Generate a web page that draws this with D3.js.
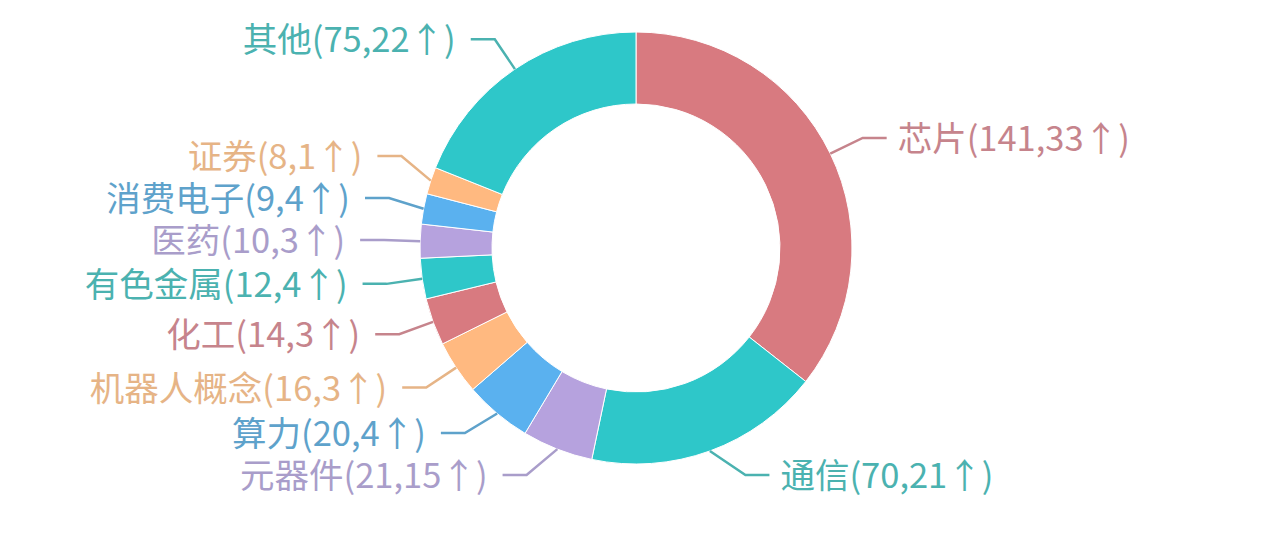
<!DOCTYPE html>
<html><head><meta charset="utf-8">
<script src="https://cdn.jsdelivr.net/npm/d3@7/dist/d3.min.js"></script>
<style>html,body{margin:0;padding:0;background:#fff;overflow:hidden}</style>
</head><body>
<svg id="c" width="1272" height="541"></svg>
<script>
const categories = ['芯片','通信','元器件','算力','机器人概念','化工','有色金属','医药','消费电子','证券','其他'];
const values = [141,70,21,20,16,14,12,10,9,8,75];
const changes = [33,21,15,4,3,3,4,3,4,1,22];
const sliceColors = ['#d87a80','#2ec7c9','#b6a2de','#5ab1ef','#ffb980','#d87a80','#2ec7c9','#b6a2de','#5ab1ef','#ffb980','#2ec7c9'];
const labelColors = ['#c6848c','#4bb2b0','#a99dca','#5ea2cb','#e6b486','#c6848c','#4bb2b0','#a99dca','#5ea2cb','#e6b486','#4bb2b0'];

const W = 1272, H = 541;
const cx = W / 2, cy = 248;
const R = 216, r0 = 144, rA = 252, len2 = 24, minGap = 42;
const gapRight = 11, gapLeft = 15;
const topBound = 30, bottomBound = 475;

const data = categories.map((c, i) => ({cat: c, v: values[i], ch: changes[i], col: sliceColors[i], lc: labelColors[i]}));
const svg = d3.select('#c');
const g = svg.append('g').attr('transform', `translate(${cx},${cy})`);
const pie = d3.pie().sort(null).value(d => d.v);
const arcs = pie(data);
const arc = d3.arc().innerRadius(r0).outerRadius(R);

g.selectAll('path.s').data(arcs).enter().append('path')
  .attr('class', 's').attr('d', arc).attr('fill', d => d.data.col)
  .attr('stroke', '#fff').attr('stroke-width', 1);

const labels = arcs.map(a => {
  const m = (a.startAngle + a.endAngle) / 2;
  const s = Math.sin(m), c = Math.cos(m);
  return {a, p1: [R * s, -R * c], y: -rA * c, side: s >= 0 ? 1 : -1};
});

[1, -1].forEach(side => {
  const L = labels.filter(l => l.side === side).sort((p, q) => p.y - q.y);
  const n = L.length;
  if (!n) return;
  const bot = bottomBound - cy, top = topBound - cy;
  L[n - 1].y = Math.min(L[n - 1].y, bot);
  for (let i = n - 2; i >= 0; i--) L[i].y = Math.min(L[i].y, L[i + 1].y - minGap);
  L[0].y = Math.max(L[0].y, top);
  for (let i = 1; i < n; i++) L[i].y = Math.max(L[i].y, L[i - 1].y + minGap);
});

labels.forEach(l => {
  const dy = Math.min(Math.abs(l.y), rA);
  const bx = l.side * Math.sqrt(rA * rA - dy * dy);
  const ex = bx + l.side * len2;
  g.append('polyline')
    .attr('points', [l.p1, [bx, l.y], [ex, l.y]].map(p => p.join(',')).join(' '))
    .attr('fill', 'none').attr('stroke', l.a.data.lc).attr('stroke-width', 2.5);
  g.append('text')
    .attr('x', ex + l.side * (l.side > 0 ? gapRight : gapLeft)).attr('y', l.y).attr('dy', -2)
    .attr('text-anchor', l.side > 0 ? 'start' : 'end')
    .attr('dominant-baseline', 'central')
    .attr('fill', l.a.data.lc)
    .style('font-family', '"Noto Sans CJK SC", "Noto Sans", sans-serif')
    .style('font-size', '34.5px')
    .text(`${l.a.data.cat}(${l.a.data.v},${l.a.data.ch}↑)`);
});
</script>
</body></html>
